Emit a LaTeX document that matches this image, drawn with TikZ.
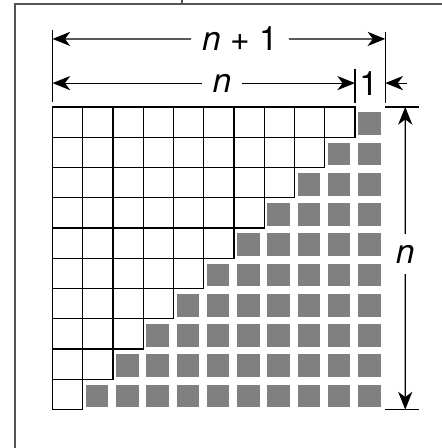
\documentclass[tikz,border=0pt]{standalone}
\usepackage{fontspec}
\setmainfont{TeX Gyre Heros}
\usetikzlibrary{arrows.meta}
\definecolor{cellgray}{HTML}{808080}
\definecolor{framegray}{HTML}{555555}
\tikzset{
  dimline/.style={-{Stealth[length=10pt,width=8pt,inset=3pt]}, line width=0.65pt},
  extline/.style={line width=0.65pt},
  dimlabel/.style={inner sep=6pt, font=\fontsize{19}{22}\selectfont},
  whitecell/.style={draw, line width=0.8pt},
}
\begin{document}
\begin{tikzpicture}[scale=0.6]
    \useasboundingbox (-1.736,-11.273) rectangle (12.843,3.537);
    % frame
    \draw[framegray, line width=0.7pt] (-1.24,-11.4) -- (-1.24,3.405) -- (12.9,3.405);
    \draw[framegray, line width=0.7pt] (4.28,3.405) -- (4.28,3.6);

    % staircase of cells
    \foreach \r in {0,...,9}{
        \pgfmathtruncatemacro{\last}{9-\r}
        \foreach \c in {0,...,\last}
            \draw[whitecell] (\c,-\r) rectangle ++(1,-1);
        \pgfmathtruncatemacro{\first}{10-\r}
        \foreach \c in {\first,...,10}
            \fill[cellgray] (\c+0.1,-\r-0.18) rectangle ++(0.75,-0.75);
    }

    % extension lines
    \draw[extline] (0,2.55) -- (0,0.15);
    \draw[extline] (11,2.48) -- (11,0.13);
    \draw[extline] (10,1.26) -- (10,0.13);
    \draw[extline] (11,0) -- (12.12,0);
    \draw[extline] (11,-10) -- (12.12,-10);

    % n+1
    \node[dimlabel] (np1) at (6.2,2.25) {\textit{n} + 1};
    \coordinate (np1L) at (0,2.25);
    \coordinate (np1R) at (11,2.25);
    \draw[dimline] (np1) -- (np1L);
    \draw[dimline] (np1) -- (np1R);

    % n and 1
    \node[dimlabel] (nh) at (5.6,0.79) {\textit{n}};
    \coordinate (nhL) at (0,0.79);
    \coordinate (nhR) at (10,0.79);
    \draw[dimline] (nh) -- (nhL);
    \draw[dimline] (nh) -- (nhR);
    \node[dimlabel, inner sep=0pt] (one) at (10.45,0.79) {1};
    \coordinate (oneTail) at (11.72,0.79);
    \coordinate (oneTip) at (11,0.79);
    \draw[dimline] (oneTail) -- (oneTip);

    % vertical n
    \node[dimlabel] (nv) at (11.66,-4.86) {\textit{n}};
    \coordinate (nvT) at (11.66,0);
    \coordinate (nvB) at (11.66,-10);
    \draw[dimline] (nv) -- (nvT);
    \draw[dimline] (nv) -- (nvB);
\end{tikzpicture}
\end{document}
